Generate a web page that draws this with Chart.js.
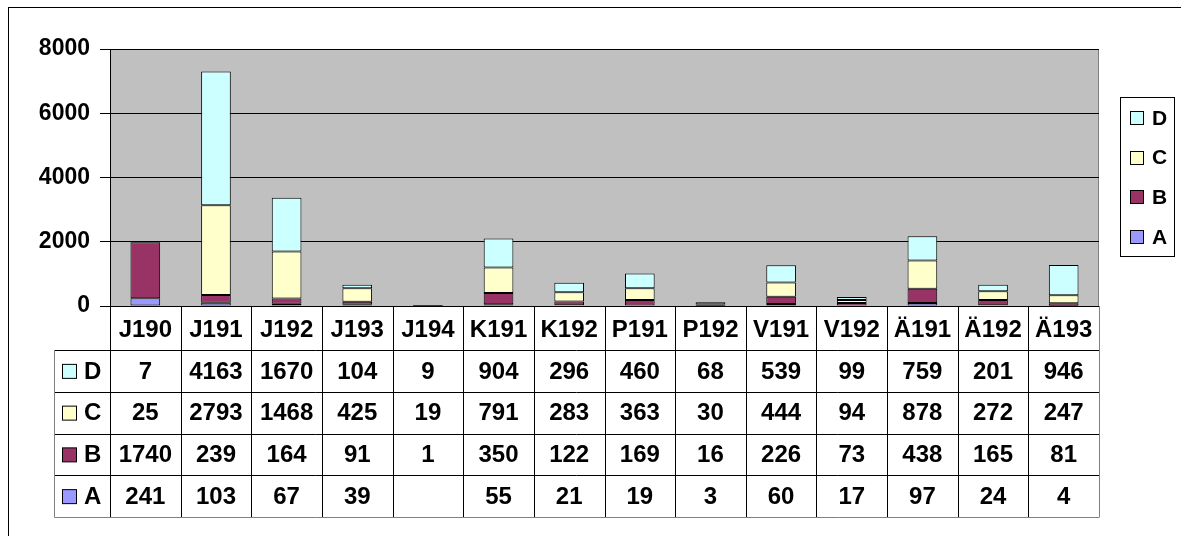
<!DOCTYPE html>
<html>
<head>
<meta charset="utf-8">
<script src="https://cdn.jsdelivr.net/npm/chart.js@4"></script>
<style>
  html, body { margin: 0; padding: 0; background: #fff; }
  #wrap { width: 1181px; height: 536px; }
</style>
</head>
<body>
<div id="wrap"><canvas id="grafico" width="1181" height="536"></canvas></div>
<script>
// Kategorien und Reihen
const kategorien = ["J190", "J191", "J192", "J193", "J194", "K191", "K192", "P191", "P192", "V191", "V192", "Ä191", "Ä192", "Ä193"];
const reiheA = [241, 103, 67, 39, null, 55, 21, 19, 3, 60, 17, 97, 24, 4];
const reiheB = [1740, 239, 164, 91, 1, 350, 122, 169, 16, 226, 73, 438, 165, 81];
const reiheC = [25, 2793, 1468, 425, 19, 791, 283, 363, 30, 444, 94, 878, 272, 247];
const reiheD = [7, 4163, 1670, 104, 9, 904, 296, 460, 68, 539, 99, 759, 201, 946];
const yTicks = [0, 2000, 4000, 6000, 8000];

const farben = { A: "#9999FF", B: "#993366", C: "#FFFFCC", D: "#CCFFFF" };
const schrift = "'Liberation Sans', Arial, sans-serif";

const reihen = [
  { label: "A", data: reiheA },
  { label: "B", data: reiheB },
  { label: "C", data: reiheC },
  { label: "D", data: reiheD }
];

// Hintergrund des Diagrammbereichs + Rahmen
const hintergrund = {
  id: "hintergrund",
  beforeDraw(chart) {
    const { ctx, chartArea: a } = chart;
    ctx.save();
    ctx.fillStyle = "#fff";
    ctx.fillRect(0, 0, chart.width, chart.height);
    ctx.strokeStyle = "#000";
    ctx.lineWidth = 1;
    ctx.strokeRect(8.5, 7.5, chart.width + 20, chart.height + 20);
    ctx.fillStyle = "#C0C0C0";
    ctx.fillRect(a.left, a.top, a.right - a.left, a.bottom - a.top);
    ctx.strokeStyle = "#808080";
    ctx.strokeRect(a.left + 0.5, a.top + 0.5, a.right - a.left - 1, a.bottom - a.top);
    ctx.restore();
  }
};

// Datentabelle unter der Achse + Legende rechts
const tabelle = {
  id: "tabelle",
  afterDraw(chart) {
    const { ctx, chartArea: a } = chart;
    const x = chart.scales.x;
    const breite = (a.right - a.left) / kategorien.length;
    const kopfUnten = a.bottom + 44;
    const tabUnten = 517;
    const tabLinks = 54;
    const zeilen = [...reihen].reverse();
    const zh = (tabUnten - kopfUnten) / zeilen.length;

    ctx.save();
    ctx.lineWidth = 1;

    // horizontale Linien
    ctx.strokeStyle = "#000";
    for (let r = 1; r < zeilen.length; r++) {
      const y = Math.round(kopfUnten + r * zh) + 0.5;
      ctx.beginPath(); ctx.moveTo(tabLinks, y); ctx.lineTo(a.right, y); ctx.stroke();
    }
    ctx.beginPath(); ctx.moveTo(tabLinks, kopfUnten + 0.5); ctx.lineTo(a.right, kopfUnten + 0.5); ctx.stroke();

    // vertikale Linien zwischen den Kategorien
    for (let i = 0; i <= kategorien.length; i++) {
      const xx = Math.round(x.getPixelForValue(i) - breite / 2) + 0.5;
      ctx.strokeStyle = (i === kategorien.length) ? "#808080" : "#000";
      ctx.beginPath(); ctx.moveTo(xx, a.bottom); ctx.lineTo(xx, tabUnten); ctx.stroke();
    }

    // Aussenrand
    ctx.strokeStyle = "#808080";
    ctx.beginPath();
    ctx.moveTo(tabLinks + 0.5, kopfUnten);
    ctx.lineTo(tabLinks + 0.5, tabUnten + 0.5);
    ctx.lineTo(a.right + 0.5, tabUnten + 0.5);
    ctx.stroke();

    // Zeilen: Symbol, Name, Werte
    ctx.font = "bold 24px " + schrift;
    ctx.textBaseline = "middle";
    zeilen.forEach((reihe, r) => {
      const ym = kopfUnten + r * zh + zh / 2 + 1;
      ctx.fillStyle = farben[reihe.label];
      ctx.fillRect(62.5, ym - 7.5, 14, 14);
      ctx.strokeStyle = "#000";
      ctx.strokeRect(62.5, ym - 7.5, 14, 14);
      ctx.fillStyle = "#000";
      ctx.textAlign = "left";
      ctx.fillText(reihe.label, 84, ym);
      ctx.textAlign = "center";
      reihe.data.forEach((v, i) => {
        if (v === null) return;
        ctx.fillText(String(v), x.getPixelForValue(i), ym);
      });
    });

    // Legende
    const lx = 1120.5, ly = 97.5;
    ctx.strokeStyle = "#000";
    ctx.fillStyle = "#fff";
    ctx.fillRect(lx, ly, 54, 159);
    ctx.strokeRect(lx, ly, 54, 159);
    ctx.font = "bold 21px " + schrift;
    ctx.textAlign = "left";
    zeilen.forEach((reihe, r) => {
      const ym = 118 + r * 39.7;
      ctx.fillStyle = farben[reihe.label];
      ctx.fillRect(1130.5, Math.round(ym) - 6.5, 13, 13);
      ctx.strokeStyle = "#000";
      ctx.strokeRect(1130.5, Math.round(ym) - 6.5, 13, 13);
      ctx.fillStyle = "#000";
      ctx.fillText(reihe.label, 1152, ym + 1);
    });
    ctx.restore();
  }
};

new Chart(document.getElementById("grafico"), {
  type: "bar",
  data: {
    labels: kategorien,
    datasets: reihen.map(r => ({
      label: r.label,
      data: r.data,
      backgroundColor: farben[r.label],
      borderColor: "#000",
      borderWidth: 1,
      borderSkipped: false,
      categoryPercentage: 1,
      barPercentage: 0.42
    }))
  },
  options: {
    responsive: false,
    animation: false,
    layout: { padding: { left: 0, top: 49, right: 82, bottom: 186 } },
    plugins: {
      legend: { display: false },
      tooltip: { enabled: false }
    },
    scales: {
      x: {
        stacked: true,
        grid: { display: false },
        border: { display: true, color: "#000", width: 1 },
        ticks: {
          color: "#000",
          font: { family: schrift, size: 24, weight: "bold" },
          padding: 2,
          maxRotation: 0,
          autoSkip: false
        },
        afterFit(scale) { scale.height = 44; }
      },
      y: {
        stacked: true,
        min: 0,
        max: 8000,
        afterBuildTicks(scale) { scale.ticks = yTicks.map(v => ({ value: v })); },
        grid: { color: "#000", lineWidth: 1, drawTicks: true, tickLength: 10 },
        border: { display: true, color: "#000", width: 1 },
        ticks: {
          color: "#000",
          font: { family: schrift, size: 23, weight: "bold" },
          padding: 10,
          callback: v => String(v)
        },
        afterFit(scale) { scale.width = 110; }
      }
    }
  },
  plugins: [hintergrund, tabelle]
});
</script>
</body>
</html>
